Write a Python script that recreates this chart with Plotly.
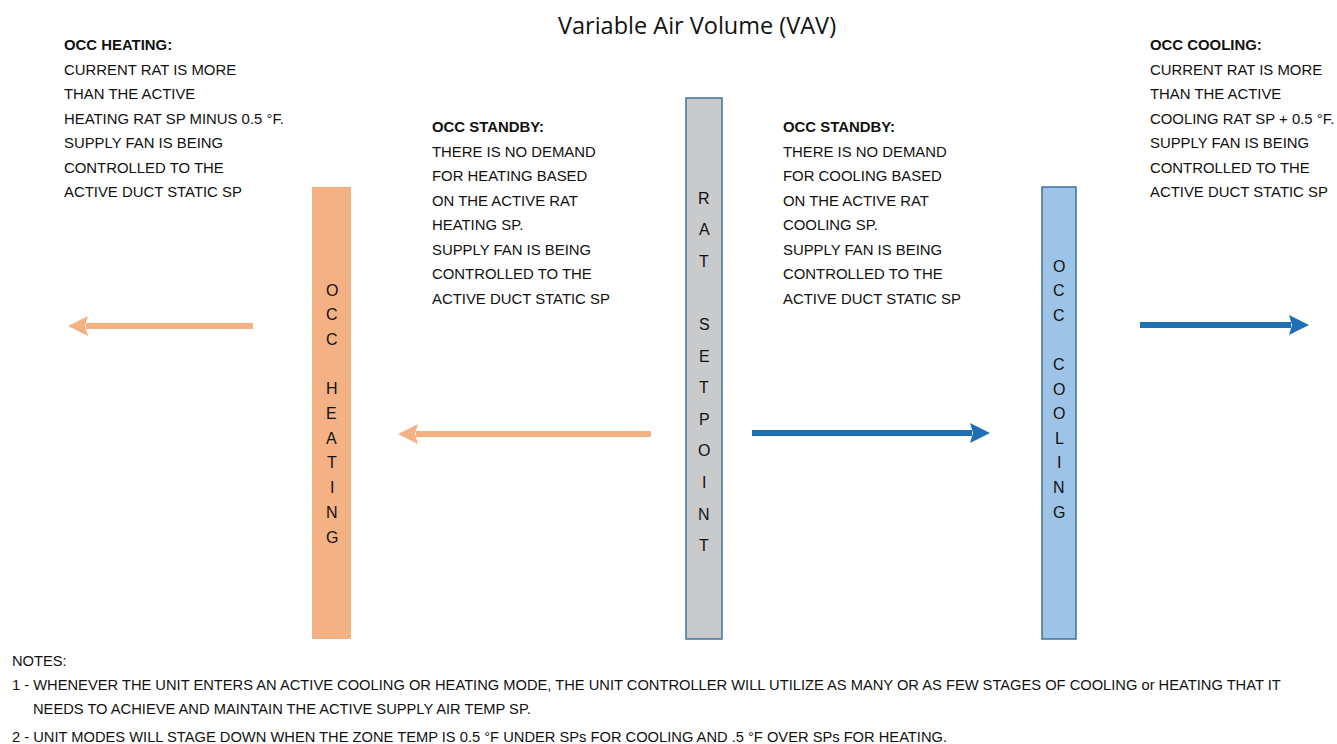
import plotly.graph_objects as go

W, H = 1337, 744

# ---- data ----
title_text = "Variable Air Volume (VAV)"

bar_labels = ["OCC HEATING", "RAT SETPOINT", "OCC COOLING"]
bar_left = [312, 686, 1042]
bar_right = [351, 722, 1076]
bar_top = [187, 98, 187]
bar_bottom = [639, 639, 639]
bar_first_letter_y = [290, 198, 266]
bar_letter_step = [24.7, 31.6, 24.6]
bar_fill = ["#F4B183", "#C9CACC", "#9DC3E6"]
bar_line = ["rgba(0,0,0,0)", "#41719C", "#41719C"]

arrow_start_x = [253, 651, 752, 1140]
arrow_tip_x = [68, 398, 990, 1309]
arrow_y = [326, 434, 433, 325]
arrow_color = ["#F4B183", "#F4B183", "#1F6FB7", "#1F6FB7"]

block_titles = ["OCC HEATING:", "OCC STANDBY:", "OCC STANDBY:", "OCC COOLING:"]
block_lines = [
    ["CURRENT RAT IS MORE", "THAN THE ACTIVE", "HEATING RAT SP MINUS 0.5 °F.",
     "SUPPLY FAN IS BEING", "CONTROLLED TO THE", "ACTIVE DUCT STATIC SP"],
    ["THERE IS NO DEMAND", "FOR HEATING BASED", "ON THE ACTIVE RAT", "HEATING SP.",
     "SUPPLY FAN IS BEING", "CONTROLLED TO THE", "ACTIVE DUCT STATIC SP"],
    ["THERE IS NO DEMAND", "FOR COOLING BASED", "ON THE ACTIVE RAT", "COOLING SP.",
     "SUPPLY FAN IS BEING", "CONTROLLED TO THE", "ACTIVE DUCT STATIC SP"],
    ["CURRENT RAT IS MORE", "THAN THE ACTIVE", "COOLING RAT SP + 0.5 °F.",
     "SUPPLY FAN IS BEING", "CONTROLLED TO THE", "ACTIVE DUCT STATIC SP"],
]
block_x = [64, 432, 783, 1150]
block_y = [45, 127, 127, 45]
block_step = 24.5

notes_lines = [
    "NOTES:",
    "1 - WHENEVER THE UNIT ENTERS AN ACTIVE COOLING OR HEATING MODE, THE UNIT CONTROLLER WILL UTILIZE AS MANY OR AS FEW STAGES OF COOLING or HEATING THAT IT",
    "NEEDS TO ACHIEVE AND MAINTAIN THE ACTIVE SUPPLY AIR TEMP SP.",
    "2 - UNIT MODES WILL STAGE DOWN WHEN THE ZONE TEMP IS 0.5 °F UNDER SPs FOR COOLING AND .5 °F OVER SPs FOR HEATING.",
]
notes_x = [12, 12, 33, 12]
notes_y = [661, 685, 709, 737]

# ---- figure ----
FONT = "Liberation Sans, Arial, sans-serif"
fig = go.Figure()
shapes = []
annots = []


def txt(x, y, text, size, xanchor="left", family=FONT):
    return dict(x=x, y=y, xref="x", yref="y", text=text, showarrow=False,
                xanchor=xanchor, yanchor="middle", borderpad=0, borderwidth=0,
                font=dict(family=family, size=size, color="#111111"))


for i, lab in enumerate(bar_labels):
    shapes.append(dict(type="rect", xref="x", yref="y",
                       x0=bar_left[i], x1=bar_right[i], y0=bar_top[i], y1=bar_bottom[i],
                       fillcolor=bar_fill[i], line=dict(color=bar_line[i], width=1.5),
                       layer="below"))
    cx = (bar_left[i] + bar_right[i]) / 2
    for k, ch in enumerate(lab):
        if ch == " ":
            continue
        annots.append(txt(cx, bar_first_letter_y[i] + k * bar_letter_step[i], ch, 16, "center"))

HEAD_LEN = 20
HEAD_HALF = 10
for i in range(len(arrow_start_x)):
    d = 1 if arrow_tip_x[i] > arrow_start_x[i] else -1
    base = arrow_tip_x[i] - d * HEAD_LEN
    y = arrow_y[i]
    shapes.append(dict(type="line", xref="x", yref="y",
                       x0=arrow_start_x[i], x1=base + d * 2, y0=y, y1=y,
                       line=dict(color=arrow_color[i], width=6)))
    shapes.append(dict(type="path", xref="x", yref="y",
                       path=f"M {arrow_tip_x[i]} {y} L {base} {y - HEAD_HALF} L {base + d*3} {y} L {base} {y + HEAD_HALF} Z",
                       fillcolor=arrow_color[i], line=dict(width=0)))

for i, t in enumerate(block_titles):
    annots.append(txt(block_x[i], block_y[i], f"<b>{t}</b>", 14.9))
    for k, line in enumerate(block_lines[i]):
        annots.append(txt(block_x[i], block_y[i] + (k + 1) * block_step, line, 14.9))

for i, line in enumerate(notes_lines):
    annots.append(txt(notes_x[i], notes_y[i], line, 14.7))

annots.append(txt(697, 25, title_text, 23.5, "center", "Open Sans, sans-serif"))

fig.update_layout(
    width=W, height=H, margin=dict(l=0, r=0, t=0, b=0),
    paper_bgcolor="white", plot_bgcolor="white",
    xaxis=dict(range=[0, W], visible=False, fixedrange=True),
    yaxis=dict(range=[H, 0], visible=False, fixedrange=True),
    shapes=shapes, annotations=annots, showlegend=False,
)
fig.write_html("out.html", config={"displayModeBar": False},
               post_script="document.body.style.margin='0';document.body.style.overflow='hidden';")
